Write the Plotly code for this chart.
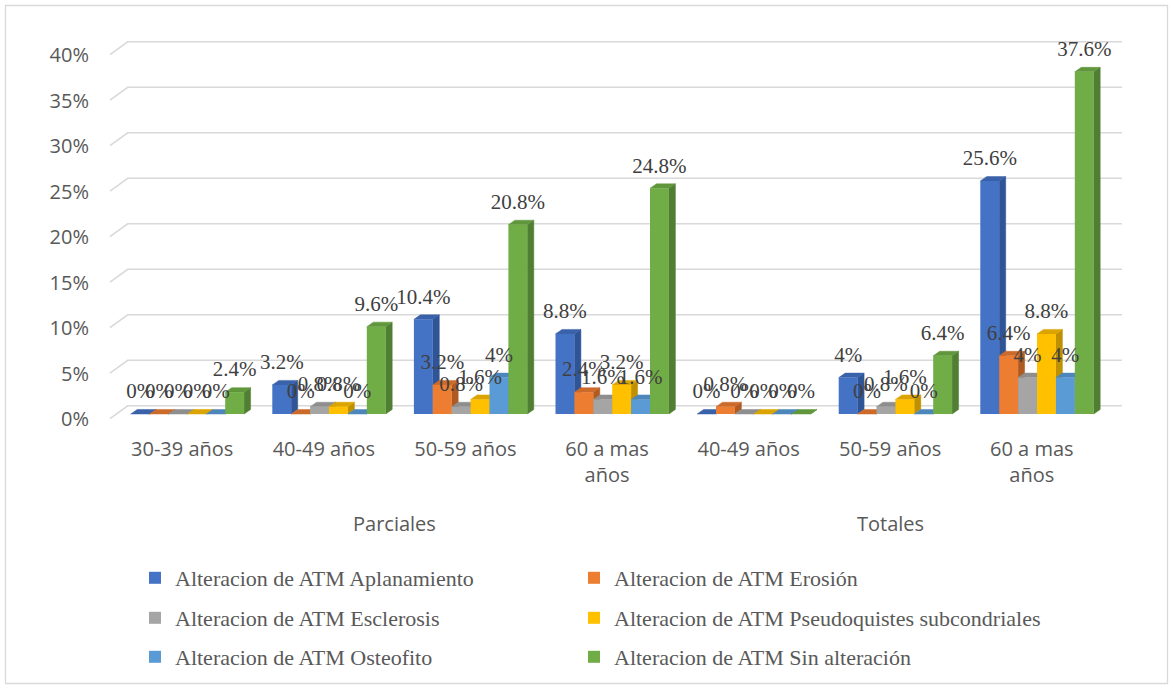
import plotly.graph_objects as go

# ---- data -------------------------------------------------------------
categories = ["30-39 años", "40-49 años", "50-59 años", "60 a mas<br>años",
              "40-49 años", "50-59 años", "60 a mas<br>años"]
group_names = ["Parciales", "Totales"]
group_centers = [1.5, 5.0]          # centre of each block of categories

series_names = [
    "Alteracion de ATM Aplanamiento",
    "Alteracion de ATM Erosión",
    "Alteracion de ATM Esclerosis",
    "Alteracion de ATM Pseudoquistes subcondriales",
    "Alteracion de ATM Osteofito",
    "Alteracion de ATM Sin alteración",
]
aplanamiento = [0, 3.2, 10.4, 8.8, 0, 4, 25.6]
erosion = [0, 0, 3.2, 2.4, 0.8, 0, 6.4]
esclerosis = [0, 0.8, 0.8, 1.6, 0, 0.8, 4]
pseudoquistes = [0, 0.8, 1.6, 3.2, 0, 1.6, 8.8]
osteofito = [0, 0, 4, 1.6, 0, 0, 4]
sin_alteracion = [2.4, 9.6, 20.8, 24.8, 0, 6.4, 37.6]
series_values = [aplanamiento, erosion, esclerosis, pseudoquistes,
                 osteofito, sin_alteracion]

y_ticks = [0, 5, 10, 15, 20, 25, 30, 35, 40]

# ---- styling ----------------------------------------------------------
front_colors = ["#4472C4", "#ED7D31", "#A5A5A5", "#FFC000", "#5B9BD5", "#70AD47"]
side_colors = ["#2F5597", "#AE5A21", "#7B7B7B", "#BF9000", "#41719C", "#507E32"]
top_colors = ["#3A62AA", "#CC6A2A", "#8E8E8E", "#DBA400", "#4D86BA", "#60973C"]

W, H = 1173, 689
PX_PER_CAT = 141.6      # horizontal pixels per category
CAT0_PX = 182.2         # pixel centre of the first category
PX_PER_PCT = 9.1        # vertical pixels per percentage point
BASE_PX = 414.0         # pixel row of the bars' front base
PLOT_L, PLOT_R, PLOT_T, PLOT_B = 107, 1126, 30, 424


def x_at(px):
    return (px - CAT0_PX) / PX_PER_CAT


def y_at(py):
    return (BASE_PX - py) / PX_PER_PCT


def paper_x(px):
    return (px - PLOT_L) / (PLOT_R - PLOT_L)


def paper_y(py):
    return (PLOT_B - py) / (PLOT_B - PLOT_T)


x_range = [x_at(PLOT_L), x_at(PLOT_R)]
y_range = [y_at(PLOT_B), y_at(PLOT_T)]

bar_w = 18.9 / PX_PER_CAT                 # width of one column
group_start = x_at(130.7)                 # left edge of first column in a group
depth_dx = 6.5 / PX_PER_CAT               # column depth, horizontal part
depth_dy = 4.5 / PX_PER_PCT               # column depth, vertical part
wall_front = 0.5                           # floor edge below each gridline
wall_back = 0.9                            # back wall above each gridline
wall_x = [x_at(110), x_at(127.7), x_at(1122)]

fig = go.Figure()

# back-wall gridlines with their oblique floor segment
gx, gy = [], []
for v in y_ticks:
    gx += wall_x + [None]
    gy += [v - wall_front, v + wall_back, v + wall_back, None]
fig.add_trace(go.Scatter(x=gx, y=gy, mode="lines", hoverinfo="skip",
                         line=dict(color="#D9D9D9", width=1.6),
                         showlegend=False, xaxis="x", yaxis="y"))

# side and top faces of the columns (drawn beneath the fronts)
n_cat = len(categories)
for i, vals in enumerate(series_values):
    sx, sy, tx, ty = [], [], [], []
    for k in range(n_cat):
        v = vals[k]
        xl = k + group_start + i * bar_w
        xr = xl + bar_w
        sx += [xr, xr, xr + depth_dx, xr + depth_dx, xr, None]
        sy += [0, v, v + depth_dy, depth_dy, 0, None]
        tx += [xl, xr, xr + depth_dx, xl + depth_dx, xl, None]
        ty += [v, v, v + depth_dy, v + depth_dy, v, None]
    fig.add_trace(go.Scatter(x=sx, y=sy, mode="lines", fill="toself",
                             fillcolor=side_colors[i],
                             line=dict(color=side_colors[i], width=0.5),
                             hoverinfo="skip", showlegend=False,
                             xaxis="x", yaxis="y"))
    fig.add_trace(go.Scatter(x=tx, y=ty, mode="lines", fill="toself",
                             fillcolor=top_colors[i],
                             line=dict(color=top_colors[i], width=0.5),
                             hoverinfo="skip", showlegend=False,
                             xaxis="x", yaxis="y"))

# column fronts on the overlaying axes so they sit above the faces;
# each series gets its own legend box laid out in a 2 x 3 grid
legend_ids = ["legend", "legend2", "legend3", "legend4", "legend5", "legend6"]
legend_cols_px = [135, 574]
legend_rows_px = [578, 618, 657]
for i, (name, vals) in enumerate(zip(series_names, series_values)):
    fig.add_trace(go.Bar(
        x=list(range(n_cat)), y=vals, name=name,
        offset=group_start + i * bar_w, width=bar_w,
        marker=dict(color=front_colors[i], line=dict(width=0)),
        xaxis="x2", yaxis="y2", legend=legend_ids[i],
    ))

# value labels
label_lift = 21 / PX_PER_PCT
for i, vals in enumerate(series_values):
    fig.add_trace(go.Scatter(
        x=[k + group_start + i * bar_w + bar_w / 2 for k in range(n_cat)],
        y=[v + label_lift for v in vals],
        text=[f"{v:g}%" for v in vals],
        mode="text", textposition="middle center",
        textfont=dict(family="Liberation Serif", size=21, color="#404040"),
        cliponaxis=False, hoverinfo="skip", showlegend=False,
        xaxis="x2", yaxis="y2",
    ))

tick_font = dict(family="Open Sans", size=20, color="#595959")

fig.update_layout(
    width=W, height=H,
    margin=dict(l=PLOT_L, r=W - PLOT_R, t=PLOT_T, b=H - PLOT_B, autoexpand=False),
    paper_bgcolor="white", plot_bgcolor="white",
    barmode="overlay",
    xaxis=dict(range=x_range, tickmode="array", tickvals=list(range(n_cat)),
               ticktext=categories, tickfont=tick_font, showgrid=False,
               zeroline=False, showline=False, ticks="",
               ticklabelstandoff=11, fixedrange=True),
    yaxis=dict(range=y_range, tickmode="array", tickvals=y_ticks,
               ticktext=[f"{v}%" for v in y_ticks], tickfont=tick_font,
               showgrid=False, zeroline=False, showline=False, ticks="",
               ticklabelshift=5, ticklabelstandoff=17, fixedrange=True),
    xaxis2=dict(range=x_range, overlaying="x", visible=False, fixedrange=True),
    yaxis2=dict(range=y_range, overlaying="y", visible=False, fixedrange=True),
    showlegend=True,
)

legend_style = dict(
    orientation="h", xref="paper", yref="paper", xanchor="left",
    yanchor="middle",
    font=dict(family="Liberation Serif", size=22, color="#595959"),
    bgcolor="rgba(0,0,0,0)", borderwidth=0,
)
for i, lid in enumerate(legend_ids):
    col_px = legend_cols_px[i % 2]
    row_px = legend_rows_px[i // 2]
    fig.update_layout({lid: dict(legend_style, x=paper_x(col_px),
                                 y=paper_y(row_px))})

for name, cx in zip(group_names, group_centers):
    fig.add_annotation(x=cx, y=paper_y(523), xref="x", yref="paper",
                       text=name, showarrow=False, font=tick_font,
                       xanchor="center", yanchor="middle")

# chart frame
fig.add_shape(type="rect", xref="paper", yref="paper",
              x0=paper_x(5.5), x1=paper_x(1167.5),
              y0=paper_y(5.5), y1=paper_y(683.5),
              line=dict(color="#D9D9D9", width=1.3), layer="below")

fig.write_html("out.html")
